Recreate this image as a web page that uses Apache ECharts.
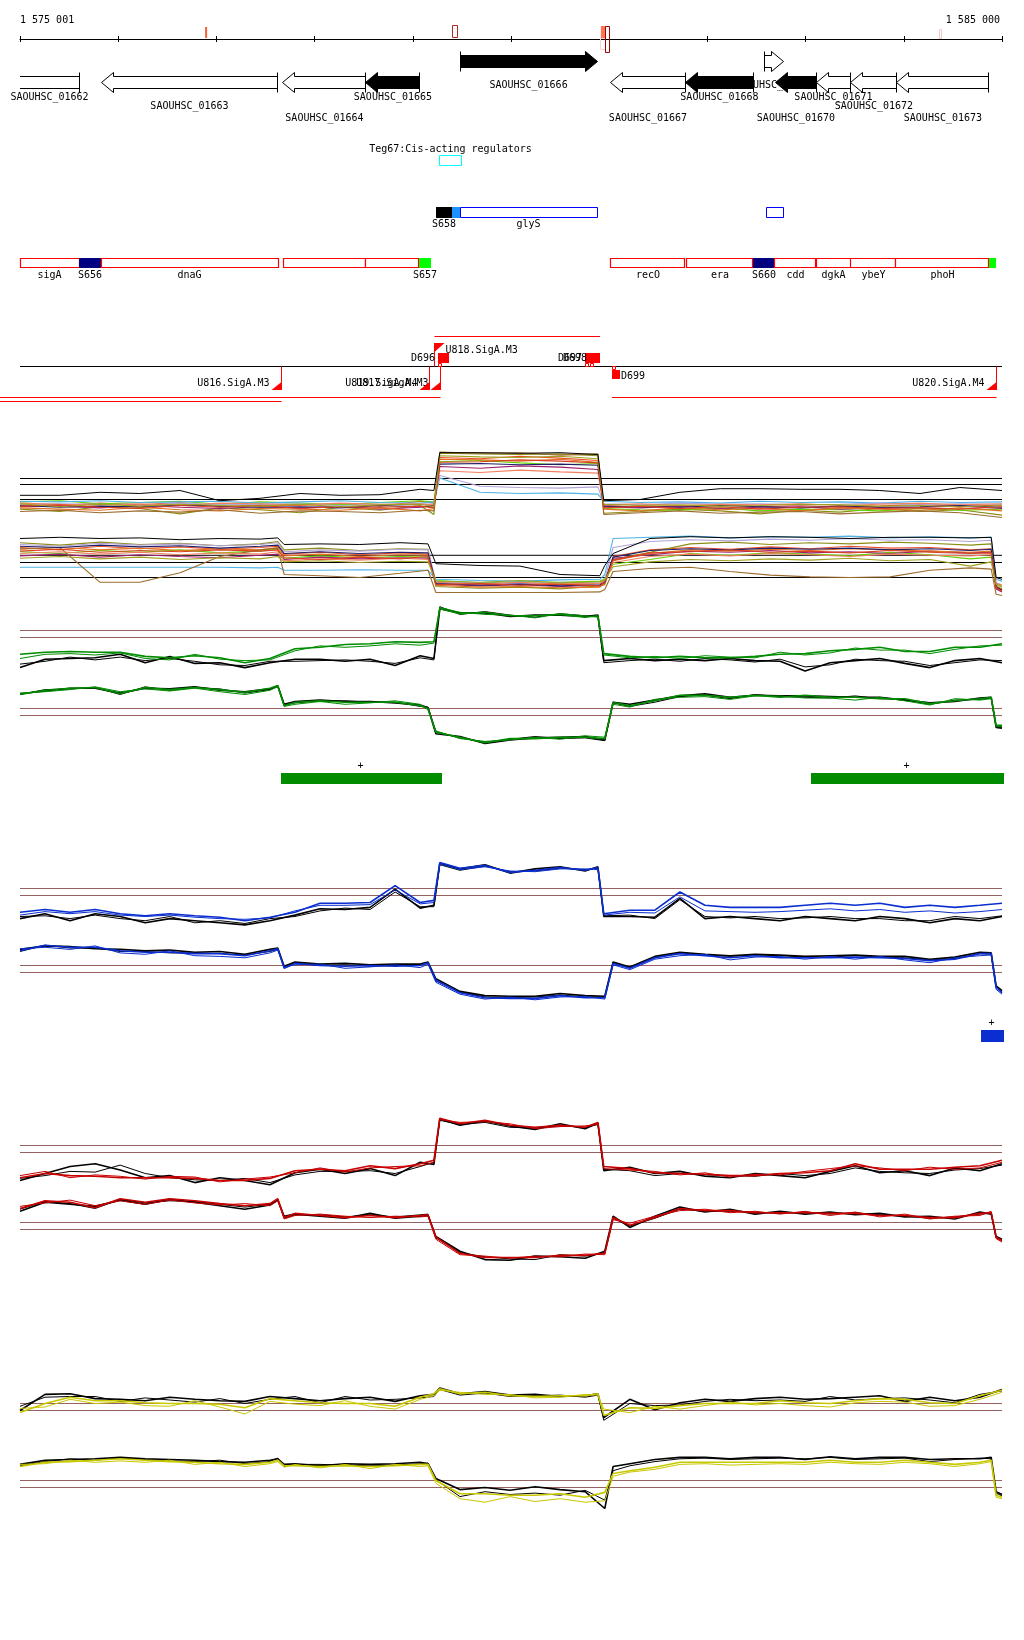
<!DOCTYPE html>
<html><head><meta charset="utf-8">
<script src="https://cdn.jsdelivr.net/npm/echarts@6/dist/echarts.min.js"></script>
<style>html,body{margin:0;padding:0;background:#fff}#c{width:1024px;height:1640px}</style>
</head><body><div id="c"></div>
<script>
// ================= DATA =================
const XMIN = 1575000, XMAX = 1585000;
const rulerLabels = ['1 575 001', '1 585 000'];
const rulerMarkStart = [1576885, 1579400, 1580915, 1580965, 1584360];
const rulerMarkEnd   = [1576905, 1579450, 1580965, 1581010, 1584380];
const rulerMarkKind  = ['tick', 'box', 'fill', 'boxDark', 'pale'];

const geneNames  = ['SAOUHSC_01662','SAOUHSC_01663','SAOUHSC_01664','SAOUHSC_01665','SAOUHSC_01666','SAOUHSC_01667','SAOUHSC_01668','SAOUHSC_01669','SAOUHSC_01670','SAOUHSC_01671','SAOUHSC_01672','SAOUHSC_01673'];
const geneStart  = [1574700,1575825,1577678,1578523,1579481,1581018,1581772,1582586,1582698,1583106,1583462,1583930];
const geneEnd    = [1575601,1577627,1578523,1579073,1580876,1581772,1582474,1582770,1583106,1583462,1583930,1584867];
const geneStrand = ['-','-','-','-','+','-','-','+','-','-','-','-'];
const geneHighlighted = ['SAOUHSC_01665','SAOUHSC_01666','SAOUHSC_01668','SAOUHSC_01670'];

const cisName = ['Teg67:Cis-acting regulators'];
const cisStart = [1579267];
const cisEnd = [1579491];

const rnaNames = ['S658', '', 'glyS', ''];
const rnaStart = [1579236, 1579399, 1579481, 1582597];
const rnaEnd   = [1579399, 1579481, 1580876, 1582770];
const rnaKind  = ['black', 'light', 'outline', 'outline'];

const featNames = ['sigA','S656','dnaG','','','S657','recO','era','S660','cdd','dgkA','ybeY','phoH',''];
const featStart = [1575000,1575601,1575825,1577688,1578523,1579063,1581018,1581792,1582464,1582688,1583106,1583462,1583920,1584867];
const featEnd   = [1575601,1575825,1577627,1578523,1579063,1579185,1581772,1582464,1582688,1583106,1583462,1583920,1584867,1584939];
const featKind  = ['cds','srna','cds','cds','cds','term','cds','cds','srna','cds','cds','cds','cds','term'];

const txNames  = ['U816.SigA.M3','U817.SigA.M3','U819.SigA.M4','U818.SigA.M3','U820.SigA.M4'];
const txTSS    = [1577668, 1579287, 1579175, 1579226, 1584939];
const txEnd    = [1574500, 1574500, 1574500, 1580906, 1581028];
const txStrand = ['-','-','-','+','-'];

const termNames  = ['D696','D697','D698','D699'];
const termStart  = [1579257, 1580753, 1580804, 1581028];
const termEnd    = [1579369, 1580906, 1580906, 1581110];
const termStrand = ['+','+','+','-'];

const segTrack = ['green','green','blue'];
const segStart = [1577658, 1583055, 1584786];
const segEnd   = [1579277, 1585000, 1585000];
const segSign  = ['+','+','+'];

// sample positions
const TX = [1575000,1575255,1575510,1575765,1576020,1576275,1576525,1576780,1577035,1577290,1577545,1577800,1578055,1578310,1578565,1578820,1579075,1579215,1579275,1579480,1579735,1579990,1580245,1580500,1580755,1580885,1580945,1581210,1581465,1581720,1581975,1582230,1582485,1582740,1582995,1583250,1583505,1583755,1584010,1584265,1584520,1584775,1585000];
const BX = [1575000,1575255,1575510,1575765,1576020,1576275,1576525,1576780,1577035,1577290,1577545,1577625,1577690,1577800,1578055,1578310,1578565,1578820,1579075,1579155,1579235,1579480,1579735,1579990,1580245,1580500,1580755,1580955,1581040,1581210,1581465,1581720,1581975,1582230,1582485,1582740,1582995,1583250,1583505,1583755,1584010,1584265,1584520,1584775,1584890,1584940,1585000];
const TXA = [1575000,1575405,1575815,1576220,1576630,1577035,1577445,1577850,1578260,1578665,1579075,1579215,1579275,1579685,1580090,1580500,1580885,1580945,1581315,1581720,1582130,1582535,1582945,1583350,1583755,1584165,1584570,1585000];
const BXA = [1575000,1575405,1575815,1576220,1576630,1577035,1577445,1577625,1577690,1578055,1578460,1578870,1579155,1579235,1579685,1580090,1580500,1580905,1580955,1581040,1581415,1581825,1582230,1582640,1583045,1583450,1583860,1584265,1584675,1584890,1584940,1585000];

// track A (all conditions) - upper strand
const aTopBlack = [0.7,0.7,1.2,1.0,1.5,-0.2,0.2,1.0,0.7,0.8,1.7,1.5,7.8,7.8,7.7,7.8,7.5,-0.2,0,1.2,1.8,1.8,1.7,1.7,1.5,1.0,2.0,1.5];
const aTop1  = [-0.8,-1.0,-0.6,-0.9,-0.5,-1.2,-0.9,-1.0,-0.7,-1.1,-0.3,-0.6,7.0,6.8,7.2,6.9,6.5,-1.0,-1.3,-1.1,-0.9,-1.2,-1.0,-1.3,-1.1,-0.8,-1.2,-0.9];
const aTop2  = [-1.6,-2.0,-1.2,-1.5,-2.4,-1.4,-1.7,-2.2,-1.3,-1.8,-1.0,-2.5,7.7,7.6,7.5,7.6,7.3,-2.3,-2.0,-1.6,-1.9,-2.4,-1.8,-2.1,-1.5,-2.0,-1.7,-2.6];
const aTop3  = [-0.4,-0.2,-0.7,-0.5,-0.3,-0.8,-0.4,-0.6,-0.9,-0.5,-0.2,-0.4,6.3,6.5,6.1,5.8,6.0,-1.5,-1.7,-1.8,-1.4,-1.9,-1.6,-1.7,-1.9,-1.5,-1.8,-1.6];
const aTop4  = [-1.2,-1.1,-1.4,-1.0,-1.3,-1.5,-1.2,-1.4,-1.1,-1.6,-1.3,-1.0,5.5,5.2,5.6,5.4,5.0,-1.2,-1.4,-1.1,-1.5,-1.3,-1.2,-1.6,-1.4,-1.3,-1.1,-1.5];
const aTop5  = [-0.3,-0.4,-0.2,-0.5,-0.4,-0.3,-0.6,-0.4,-0.2,-0.5,-0.6,-0.4,3.6,1.2,1.0,1.1,0.9,-0.3,-0.5,-0.4,-0.6,-0.3,-0.5,-0.4,-0.6,-0.3,-0.5,-0.4];
const aTop6  = [-0.9,-0.7,-0.8,-1.0,-0.6,-0.9,-0.8,-0.7,-1.0,-0.8,-0.9,-0.7,4.0,2.2,2.0,1.9,2.1,-0.7,-0.9,-0.6,-0.8,-0.7,-0.9,-0.8,-0.6,-0.9,-0.7,-0.8];
const aTop7  = [-1.4,-1.6,-1.8,-1.3,-1.7,-1.9,-1.5,-1.6,-1.8,-1.4,-1.9,-1.5,6.7,6.6,6.4,6.7,6.2,-1.6,-1.9,-1.4,-1.7,-1.5,-1.9,-1.4,-1.6,-1.8,-1.4,-1.9];
const aTop8  = [-2.0,-1.8,-2.2,-1.9,-2.1,-1.7,-2.3,-1.9,-2.0,-2.2,-1.8,-1.9,7.9,7.7,7.8,7.4,7.6,-2.5,-2.2,-1.9,-2.3,-2.1,-2.0,-2.4,-2.1,-1.9,-2.2,-3.0];
const aTop9  = [-0.6,-0.8,-0.9,-0.7,-1.0,-0.6,-0.7,-0.9,-0.6,-0.8,-0.7,-0.9,4.8,4.5,4.9,4.6,4.4,-0.9,-0.7,-1.0,-0.8,-0.9,-0.7,-1.0,-0.8,-0.6,-0.9,-0.7];
const aTop10 = [-1.0,-1.3,-1.1,-1.2,-0.9,-1.1,-1.3,-1.2,-1.4,-1.0,-1.2,-1.1,5.9,6.0,5.8,5.9,5.7,-1.1,-1.2,-1.3,-1.0,-1.2,-1.4,-1.1,-1.3,-1.2,-1.0,-1.3];
const aTop11 = [-1.1,-0.9,-1.3,-1.5,-1.0,-1.3,-1.0,-1.5,-1.2,-1.3,-1.1,-1.4,6.2,6.3,6.6,6.4,6.1,-1.4,-1.1,-1.5,-1.2,-1.6,-1.3,-1.2,-1.5,-1.4,-1.6,-1.2];
const aTop12 = [-0.7,-1.2,-0.8,-1.1,-0.8,-1.0,-1.1,-0.8,-1.2,-0.9,-0.8,-1.2,7.3,7.1,7.0,7.2,6.8,-0.8,-1.0,-0.9,-1.1,-1.0,-0.8,-0.9,-1.1,-1.0,-1.2,-1.0];
// track A - lower strand
const aBotBlack = [6.5,6.7,6.5,6.6,6.3,6.5,6.4,6.6,5.5,5.6,5.5,5.8,5.6,2.3,2.0,1.9,0.5,0.3,2.0,4.0,6.5,6.8,6.6,6.8,6.7,6.5,6.7,6.7,6.6,6.7,0.0,-0.3];
const aBot1  = [5.0,4.6,5.2,4.8,5.1,4.7,5.0,5.2,3.9,4.2,3.8,4.1,3.9,-0.8,-1.2,-0.9,-1.1,-1.0,-0.6,3.5,4.6,5.0,4.7,5.1,4.8,5.2,4.9,5.0,4.6,4.8,-1.5,-2.0];
const aBot2  = [5.8,5.4,5.9,5.5,5.7,5.3,5.6,6.0,4.6,4.9,4.5,4.8,4.7,-1.5,-1.8,-1.6,-1.9,-1.4,-1.2,3.0,4.2,5.6,5.9,5.5,5.8,5.6,5.9,5.7,5.4,5.6,-1.8,-2.2];
const aBot3  = [4.3,4.0,4.5,4.2,4.6,4.1,4.4,4.7,3.2,3.6,3.3,3.5,3.4,-0.5,-0.9,-0.7,-0.8,-0.6,-0.2,2.2,3.0,4.0,3.7,4.1,3.9,3.6,4.2,3.8,3.1,3.4,-1.2,-1.6];
const aBot4  = [3.6,3.9,3.4,3.8,3.5,3.3,3.7,3.9,3.0,3.4,3.1,3.3,3.2,-1.1,-1.4,-1.2,-1.5,-1.3,-0.9,3.2,3.8,4.4,4.2,4.5,4.1,4.3,4.0,4.4,4.1,4.2,-1.9,-2.4];
const aBot5  = [1.7,1.7,1.7,1.7,1.7,1.7,1.6,1.7,1.2,1.2,1.3,1.2,1.2,-0.3,-0.5,-0.6,-0.4,-0.3,0.5,6.5,6.7,6.9,6.6,6.8,6.7,6.9,6.6,6.8,6.6,6.7,-0.3,-0.6];
const aBot6  = [5.5,5.2,5.7,5.4,5.6,5.3,5.5,5.8,4.3,4.6,4.4,4.7,4.6,-0.7,-0.9,-1.0,-0.8,-0.9,-0.3,5.0,6.0,6.3,6.1,6.4,6.2,6.5,6.2,6.3,6.0,6.2,-0.9,-1.2];
const aBot7  = [4.7,5.0,4.6,4.9,4.5,4.8,4.6,5.0,3.6,3.9,3.5,3.8,3.7,-1.3,-1.6,-1.5,-1.7,-1.6,-1.0,2.8,4.0,4.6,4.4,4.7,4.5,4.8,4.6,4.4,4.2,4.4,-1.4,-1.9];
const aBot8  = [4.8,5.0,-0.8,-0.8,0.8,3.5,4.6,4.9,0.5,0.3,0.0,0.7,1.2,-2.5,-2.5,-2.5,-2.5,-2.4,-2.0,1.0,1.5,1.7,1.0,0.4,0.1,0.0,0.1,1.2,1.6,1.4,-2.8,-3.0];
const aBot9  = [4.0,4.3,3.9,4.2,3.8,4.1,3.9,4.3,2.8,3.1,2.9,3.2,3.0,-0.9,-1.1,-0.8,-1.2,-1.0,-0.5,2.5,3.5,3.9,3.6,4.0,3.8,3.5,3.9,3.7,3.6,3.8,-1.0,-1.3];
const aBot10 = [5.2,5.0,5.4,5.1,5.3,4.9,5.2,5.4,4.0,4.3,4.0,4.2,4.1,-1.0,-1.3,-1.1,-1.4,-1.2,-0.8,3.4,4.5,4.8,4.6,4.9,4.7,4.9,4.6,4.8,4.5,4.7,-1.6,-2.1];
const aBot11 = [4.4,4.7,4.2,4.5,4.3,4.6,4.4,4.6,3.3,3.0,3.4,3.1,3.5,-1.2,-1.0,-1.3,-1.1,-1.4,-0.7,2.9,4.1,4.3,4.6,4.2,4.4,4.1,4.5,4.2,4.0,4.1,-1.7,-2.3];
const aBot12 = [3.2,3.5,3.1,3.4,3.0,3.3,3.1,3.5,2.6,2.8,2.5,2.7,2.6,-0.6,-0.8,-0.5,-0.9,-0.7,-0.4,1.8,2.6,3.0,2.8,3.1,2.9,3.2,2.8,3.0,1.9,2.6,-1.1,-1.5];
const aTopLevels = [3.5, 2.5, 0];
const aBotLevels = [3.7, 2.5, 0];

// green condition
const greenTop1 = [-2.4,-2.1,-2.0,-2.1,-2.1,-2.7,-2.9,-2.6,-2.9,-3.6,-3.0,-1.6,-1.4,-1.0,-0.9,-0.6,-0.7,-0.6,4.1,3.4,3.6,3.1,3.1,3.3,2.9,3.1,-2.3,-2.7,-2.9,-2.7,-2.9,-2.9,-2.7,-2.4,-2.3,-1.9,-1.7,-1.4,-2.0,-2.0,-1.4,-1.4,-0.9];
const greenTop2 = [-3.0,-2.4,-2.3,-2.5,-2.2,-3.0,-3.2,-2.4,-3.1,-3.3,-3.2,-1.9,-1.2,-1.4,-1.2,-0.9,-1.1,-0.8,4.3,3.6,3.3,3.2,2.8,3.4,3.1,2.9,-2.5,-2.9,-2.7,-3.0,-2.6,-2.8,-2.9,-2.1,-2.5,-2.2,-1.5,-1.8,-1.8,-2.3,-1.7,-1.2,-1.1];
const greenTopRef1 = [-4.3,-3.1,-3.0,-2.9,-2.4,-3.6,-2.7,-3.7,-3.6,-4.3,-3.6,-3.1,-3.1,-3.4,-3.1,-4.0,-2.6,-3.0,4.1,3.5,3.5,3.0,3.2,3.2,3.0,3.2,-3.3,-3.0,-3.3,-3.1,-3.3,-3.0,-3.3,-3.4,-4.8,-3.6,-3.3,-3.0,-3.7,-4.3,-3.3,-3.0,-3.6];
const greenTopRef2 = [-3.8,-3.4,-2.8,-3.2,-2.8,-3.3,-3.0,-3.4,-3.9,-4.0,-3.4,-3.4,-3.3,-3.2,-3.4,-3.7,-2.9,-3.2,4.4,3.3,3.7,3.2,2.9,3.4,3.1,3.0,-3.6,-3.3,-3.1,-3.4,-3.0,-3.2,-3.5,-3.1,-4.2,-3.9,-3.1,-3.3,-3.4,-4.0,-3.6,-3.2,-3.3];
const greenBot1 = [3.0,3.6,3.9,4.0,3.1,4.0,3.7,4.0,3.7,3.3,3.9,4.3,1.4,1.9,2.1,1.9,1.9,1.9,1.4,1.0,-2.4,-3.1,-3.9,-3.3,-3.3,-3.1,-3.1,-3.3,1.9,1.4,2.1,2.9,2.9,2.6,2.9,2.6,2.9,2.6,2.6,2.4,2.4,1.7,2.1,2.4,2.6,-1.4,-1.4];
const greenBot2 = [3.2,3.4,3.7,4.1,3.4,3.8,3.5,3.9,3.4,3.0,3.6,4.1,1.3,1.6,2.0,1.6,1.8,2.1,1.6,0.8,-2.2,-3.3,-3.7,-3.5,-3.1,-3.4,-2.9,-3.1,1.6,1.2,2.3,2.6,2.7,2.3,2.8,2.8,2.5,2.5,2.2,2.6,2.1,1.5,2.4,2.2,2.4,-1.6,-1.6];
const greenBotRef1 = [3.1,3.5,3.9,3.9,3.2,3.9,3.8,4.1,3.6,3.4,3.8,4.2,1.6,2.0,2.2,2.0,2.0,1.8,1.5,1.1,-2.6,-3.0,-4.0,-3.5,-3.2,-3.1,-3.0,-3.5,1.9,1.6,2.2,2.8,3.1,2.6,2.9,2.8,2.8,2.7,2.6,2.6,2.2,1.8,2.0,2.5,2.6,-1.7,-1.8];
const greenBotRef2 = [3.0,3.7,3.8,4.0,3.0,4.1,3.6,4.0,3.8,3.2,3.7,4.3,1.5,1.8,2.1,2.1,1.9,1.9,1.3,1.2,-2.3,-3.2,-3.8,-3.4,-3.0,-3.3,-3.2,-3.6,1.8,1.3,1.9,2.7,2.9,2.4,3.0,2.7,2.6,2.5,2.8,2.4,2.3,1.6,2.2,2.3,2.5,-1.5,-1.6];

// blue condition
const blueTop1 = [-2.4,-2.0,-2.4,-2.0,-2.6,-2.9,-2.6,-2.9,-3.1,-3.6,-3.1,-2.4,-1.1,-1.1,-1.0,1.4,-1.0,-0.7,4.7,3.9,4.3,3.3,3.6,4.0,3.6,4.0,-2.6,-2.1,-2.1,0.5,-1.4,-1.7,-1.7,-1.7,-1.4,-1.1,-1.4,-1.1,-1.7,-1.4,-1.7,-1.4,-1.1];
const blueTop2 = [-2.8,-2.3,-2.6,-2.3,-2.8,-3.0,-2.8,-3.1,-3.3,-3.4,-3.2,-2.2,-1.4,-1.4,-1.3,0.8,-1.2,-1.0,4.5,3.7,4.1,3.5,3.4,3.8,3.8,3.7,-2.8,-2.4,-2.5,-0.2,-2.2,-2.3,-2.4,-2.3,-2.1,-1.9,-2.2,-2.0,-2.4,-2.2,-2.5,-2.3,-2.0];
const blueTopRef1 = [-3.3,-2.6,-3.6,-2.6,-3.0,-3.9,-3.3,-3.6,-3.9,-4.2,-3.6,-2.8,-1.9,-2.0,-1.7,0.9,-1.8,-1.4,4.6,3.8,4.4,3.2,3.8,4.1,3.5,4.1,-3.0,-3.0,-3.1,-0.4,-3.3,-3.0,-3.3,-3.6,-3.0,-3.3,-3.6,-3.0,-3.3,-3.9,-3.3,-3.6,-3.0];
const blueTopRef2 = [-3.0,-2.9,-3.3,-2.8,-3.3,-3.6,-3.0,-3.9,-3.6,-4.0,-3.3,-3.0,-2.2,-1.8,-2.0,0.5,-1.6,-1.6,4.4,3.6,4.2,3.4,3.5,3.9,3.7,3.9,-2.9,-2.8,-3.3,-0.6,-3.0,-3.2,-3.0,-3.3,-3.2,-3.0,-3.3,-3.3,-3.6,-3.6,-3.0,-3.3,-2.9];
const blueBot1 = [3.1,3.9,3.6,3.6,3.1,2.9,2.9,2.7,2.7,2.4,3.1,3.4,0.6,1.3,1.0,0.9,1.0,0.9,1.0,1.4,-1.1,-2.9,-3.6,-3.7,-3.7,-3.3,-3.6,-3.6,1.3,0.6,2.1,2.7,2.4,2.1,2.4,2.1,2.1,2.1,2.2,2.1,2.0,1.7,1.9,2.7,2.7,-2.1,-2.9];
const blueBot2 = [3.4,3.6,3.3,3.8,2.8,2.6,3.1,2.4,2.3,2.1,2.8,3.2,0.8,1.1,1.2,0.6,0.8,1.1,0.7,1.2,-1.4,-3.1,-3.8,-3.5,-3.9,-3.5,-3.4,-3.8,1.1,0.4,1.9,2.4,2.6,1.8,2.2,2.3,1.9,2.3,1.9,2.3,1.8,1.4,2.1,2.4,2.5,-2.4,-3.1];
const blueBotRef1 = [3.3,3.8,3.7,3.4,3.3,3.1,3.2,2.9,3.0,2.6,3.3,3.5,0.9,1.5,1.2,1.3,1.1,1.2,1.2,1.5,-0.9,-2.7,-3.3,-3.4,-3.4,-3.0,-3.3,-3.4,1.5,0.8,2.3,2.9,2.6,2.4,2.6,2.5,2.3,2.4,2.5,2.3,2.3,1.9,2.2,2.9,2.8,-1.9,-2.6];
const blueBotRef2 = [3.0,3.9,3.5,3.5,3.0,3.0,2.8,2.8,2.7,2.5,3.0,3.3,0.7,1.4,1.0,1.1,0.9,1.0,1.1,1.3,-1.2,-2.8,-3.5,-3.6,-3.5,-3.2,-3.5,-3.5,1.4,0.7,2.1,2.8,2.5,2.3,2.5,2.4,2.2,2.2,2.4,2.2,2.1,1.8,2.0,2.7,2.6,-2.0,-2.8];

// red condition
const redTop1 = [-3.6,-3.0,-3.3,-3.4,-3.6,-3.6,-3.6,-3.7,-4.0,-4.0,-3.7,-2.6,-2.4,-2.6,-1.9,-2.3,-1.6,-1.1,4.9,4.1,4.6,3.9,3.6,3.9,3.6,4.3,-2.0,-2.3,-2.9,-3.0,-3.1,-3.3,-3.3,-3.0,-2.9,-2.6,-1.6,-2.4,-2.4,-2.4,-2.1,-1.9,-1.1];
const redTop2 = [-3.3,-2.7,-3.6,-3.2,-3.4,-3.8,-3.4,-3.5,-4.2,-3.8,-3.5,-2.9,-2.2,-2.8,-2.2,-2.0,-1.9,-1.4,4.7,4.3,4.4,4.1,3.4,3.7,3.8,4.0,-2.3,-2.5,-2.7,-3.2,-2.9,-3.5,-3.1,-3.2,-2.7,-2.3,-1.9,-2.2,-2.6,-2.1,-2.4,-2.2,-1.4];
const redTopRef1 = [-4.0,-3.0,-2.0,-1.6,-2.5,-3.6,-3.3,-4.3,-3.6,-4.0,-4.6,-2.9,-2.4,-3.0,-2.3,-3.3,-1.4,-1.7,4.8,3.9,4.5,3.8,3.3,4.1,3.4,4.2,-2.6,-2.1,-3.0,-2.7,-3.4,-3.6,-3.0,-3.3,-3.6,-2.7,-1.9,-2.9,-2.6,-3.3,-2.2,-2.6,-1.6];
const redTopRef2 = [-3.7,-3.3,-2.7,-2.8,-1.8,-3.0,-3.6,-3.9,-4.0,-3.7,-4.3,-3.2,-2.7,-2.7,-2.6,-3.0,-2.0,-1.4,4.6,4.0,4.3,3.6,3.5,3.8,3.6,4.0,-2.4,-2.6,-3.3,-3.0,-3.2,-3.3,-3.4,-3.0,-3.3,-3.0,-2.2,-2.7,-2.9,-3.0,-2.5,-2.3,-1.8];
const redBot1 = [3.0,4.1,3.9,3.1,4.4,3.9,4.4,4.1,3.7,3.4,3.7,4.4,1.7,2.3,2.0,1.7,2.0,1.7,2.0,2.1,-1.1,-3.4,-4.0,-4.0,-4.0,-3.7,-3.7,-3.4,1.7,0.6,1.7,3.0,2.7,2.7,2.4,2.4,2.4,2.3,2.3,2.0,2.0,1.7,1.7,2.3,2.4,-1.1,-1.6];
const redBot2 = [3.3,3.8,4.2,3.4,4.1,3.6,4.2,3.8,3.5,3.7,3.4,4.1,1.5,2.0,2.2,1.9,1.7,1.9,1.8,1.9,-1.4,-3.6,-3.8,-4.1,-3.8,-3.9,-3.5,-3.6,1.4,0.9,1.9,2.7,2.9,2.4,2.6,2.2,2.6,2.0,2.5,1.8,2.2,1.5,1.9,2.0,2.6,-1.3,-1.8];
const redBotRef1 = [2.6,3.9,3.6,3.3,4.2,3.6,4.3,3.9,3.4,2.9,3.5,4.2,1.9,2.2,1.9,1.6,2.3,1.6,1.9,2.0,-1.0,-3.1,-4.3,-4.4,-3.8,-3.9,-4.1,-3.1,1.9,0.3,1.9,3.2,2.5,2.9,2.2,2.6,2.2,2.5,2.1,2.3,1.8,1.9,1.5,2.5,2.2,-1.0,-1.4];
const redBotRef2 = [2.9,4.0,3.7,3.0,4.3,3.8,4.1,4.0,3.6,3.2,3.6,4.3,1.6,2.1,2.1,1.8,2.1,1.8,2.1,2.2,-1.2,-3.3,-3.9,-4.2,-4.3,-3.6,-3.8,-3.3,1.6,0.5,1.6,2.9,2.6,2.6,2.5,2.3,2.5,2.2,2.4,2.1,1.9,1.6,1.8,2.2,2.3,-1.2,-1.5];

// yellow condition
const yellowTop1 = [-0.3,1.0,1.9,1.4,1.4,1.1,1.0,1.0,0.9,0.4,1.7,1.4,1.1,1.0,1.0,0.6,1.9,2.4,3.1,2.4,2.6,2.1,2.0,2.1,2.1,2.4,-0.7,0.4,0.3,0.7,1.0,1.0,1.0,1.4,1.1,1.0,1.4,1.7,1.6,1.1,1.0,2.1,2.9];
const yellowTop2 = [0.3,0.5,1.6,1.0,1.2,0.7,0.6,1.4,0.5,-0.5,1.3,0.9,0.7,1.4,0.6,0.2,1.6,2.1,2.9,2.6,2.3,2.3,1.8,1.9,2.3,2.2,0.2,-0.3,0.6,0.2,0.7,1.2,0.8,1.0,0.7,0.5,1.1,1.3,1.2,0.6,0.7,1.6,2.6];
const yellowTopRef1 = [0.0,2.3,2.4,1.7,1.6,1.4,1.9,1.6,1.4,1.3,2.0,1.7,1.4,1.7,1.9,1.3,2.1,2.3,3.2,2.4,2.7,2.2,2.3,2.0,2.1,2.4,-1.0,1.6,0.1,1.1,1.6,1.3,1.7,1.9,1.6,1.7,1.9,2.1,1.3,1.9,1.4,1.9,3.0];
const yellowTopRef2 = [0.6,1.9,2.0,2.0,1.3,1.8,1.5,1.2,1.7,1.0,1.6,2.0,1.1,2.0,1.5,1.6,1.8,2.0,3.0,2.2,2.5,2.0,2.1,2.2,1.9,2.2,-1.4,1.0,0.7,0.8,1.3,1.6,1.4,1.5,1.3,2.0,1.5,1.7,1.8,1.5,1.1,2.3,2.8];
const yellowBot1 = [3.0,3.6,3.7,3.9,4.1,3.9,3.7,3.6,3.4,3.3,3.6,3.9,3.1,3.1,3.0,3.1,3.0,3.1,3.3,3.3,1.0,-0.9,-0.9,-1.1,-1.1,-0.9,-1.4,-0.7,2.0,2.4,2.9,3.6,3.6,3.6,3.6,3.6,3.6,3.9,3.6,3.6,3.9,3.6,3.3,3.6,3.9,-1.1,-1.4];
const yellowBot2 = [3.3,3.4,3.9,3.6,3.8,3.6,3.9,3.3,3.6,3.0,3.4,3.7,2.9,3.3,2.8,3.3,2.7,3.3,3.0,3.1,0.6,-1.6,-2.1,-1.3,-2.0,-1.6,-2.1,-1.9,1.6,2.2,2.6,3.3,3.4,3.2,3.3,3.4,3.3,3.6,3.4,3.3,3.6,3.4,3.0,3.4,3.7,-1.4,-1.6];
const yellowBotRef1 = [3.3,3.9,4.0,4.1,4.3,4.1,4.0,3.9,3.7,3.6,3.9,4.1,3.3,3.4,3.1,3.4,3.3,3.4,3.6,3.4,1.3,-0.3,0.0,-0.4,0.1,-0.3,-0.6,-3.0,3.0,3.4,4.0,4.3,4.3,4.1,4.3,4.3,4.0,4.4,4.1,4.3,4.3,4.0,4.1,4.1,4.3,-0.6,-1.0];
const yellowBotRef2 = [3.1,3.7,4.1,3.9,4.2,4.0,3.8,3.7,3.9,3.4,3.7,4.2,3.0,3.3,3.3,3.2,3.1,3.2,3.4,3.5,1.1,-1.3,-0.6,-1.0,-0.8,-1.1,-0.4,-1.8,2.4,3.1,3.7,4.1,4.2,4.0,4.1,4.2,4.1,4.3,4.0,4.1,4.2,3.7,4.0,4.2,4.1,-0.8,-1.2];
const thresholdLevels = [0, 1];

// ================= LAYOUT / STYLE =================
const FONT = '10px "DejaVu Sans Mono", "Liberation Mono", monospace';
const L = {
  left: 20, width: 982,
  rulerY: 38, rulerLabelY: 20,
  geneRows: [
    {bodyTop: 55.5, bodyBot: 67.5, headTop: 51.5, headBot: 71.5},
    {bodyTop: 76.5, bodyBot: 88.5, headTop: 72.5, headBot: 92.5}
  ],
  headLen: 12,
  geneRow:   [1,1,1,1,0,1,1,0,1,1,1,1],
  geneLabelY:[97,106,118,97,85,118,97,85,118,97,106,118],
  cisBox: [155.5, 165.5], cisLabelY: 149,
  rnaBox: [207, 218], rnaLabelY: 224,
  featBox: [258.5, 267.5], featLabelY: 275,
  txBaseY: 366.5, txLaneY: [401.5, 397.5, 397.5, 336.5, 397.5],
  txUpTop: 343, txDownBot: 390,
  termUp: [353, 363], termDown: [370, 379],
  seg: { green: {box:[773, 784], label:766}, blue: {box:[1030, 1042], label:1023} },
  panels: {
    aTop: {top:445.5, height:84, min:-5, max:9},
    aBot: {top:529.5, height:78, min:-5, max:8},
    gTop: {top:595.5, height:84, min:-6, max:6},
    gBot: {top:673.5, height:84, min:-6, max:6},
    bTop: {top:853.5, height:84, min:-6, max:6},
    bBot: {top:930.5, height:84, min:-6, max:6},
    rTop: {top:1110.5, height:84, min:-6, max:6},
    rBot: {top:1187.5, height:84, min:-6, max:6},
    yTop: {top:1368.5, height:84, min:-6, max:6},
    yBot: {top:1445.5, height:84, min:-6, max:6}
  }
};
const COL = {green:'#008c00', blue:'#0a2ed0', red:'#c80000', yellow:'#c8c800', black:'#000000', ref:'#956262'};
const bundleColors = ['#e8502a','#8c8c14','#5fd400','#a01e6e','#4db3e6','#b3a3d6','#e07020','#9c6b2e','#f08060','#20206a','#d94020','#a0a020'];

const cr = v => Math.round(v - 0.5) + 0.5;

// ================= OPTION =================
const option = {animation:false, backgroundColor:'#ffffff', grid:[], xAxis:[], yAxis:[], series:[]};
function addGrid(top, height, ymin, ymax) {
  const i = option.grid.length;
  option.grid.push({left:L.left, width:L.width, top:top, height:height, containLabel:false, outerBoundsMode:'none', show:false});
  option.xAxis.push({gridIndex:i, type:'value', min:XMIN, max:XMAX, show:false});
  option.yAxis.push({gridIndex:i, type:'value', min:ymin, max:ymax, show:false});
  return i;
}
const ANN = addGrid(0, 1640, 0, 1);
const R1 = addGrid(L.rulerY, 1, 0, 1);
const R2 = addGrid(L.rulerY, 1, 0, 1);
Object.assign(option.xAxis[R1], {show:true, position:'top', interval:1000,
  axisLine:{show:true, lineStyle:{color:'#000', width:1}},
  axisTick:{show:true, length:3, lineStyle:{color:'#000', width:1}},
  axisLabel:{show:false}, splitLine:{show:false}});
Object.assign(option.xAxis[R2], {show:true, position:'top', interval:1000,
  axisLine:{show:false},
  axisTick:{show:true, inside:true, length:3, lineStyle:{color:'#000', width:1}},
  axisLabel:{show:false}, splitLine:{show:false}});

function ann(data, renderItem, z, clip) {
  option.series.push({type:'custom', xAxisIndex:ANN, yAxisIndex:ANN, data:data, renderItem:renderItem,
    z:z, clip:!!clip, silent:true, animation:false});
}
const X = (api, v) => api.coord([v, 0])[0];
const txt = (text, x, y, align) => ({type:'text', x:x, y:y, style:{text:text, font:FONT, fill:'#000', align:align || 'center', verticalAlign:'middle'}});

ann([[XMIN, 0], [XMAX, 1]], (p, api) => {
  const i = api.value(1);
  return txt(rulerLabels[i], X(api, api.value(0)) + (i === 0 ? 0 : -2), L.rulerLabelY, i === 0 ? 'left' : 'right');
}, 5);
ann(rulerMarkStart.map((s, i) => [s, rulerMarkEnd[i], i]), (p, api) => {
  const i = api.value(2), x1 = X(api, api.value(0)), x2 = X(api, api.value(1));
  const k = rulerMarkKind[i];
  if (k === 'tick') return {type:'rect', shape:{x:x1, y:27, width:Math.max(2, x2 - x1), height:11}, style:{fill:'#f4603c'}};
  if (k === 'box') return {type:'rect', shape:{x:cr(x1), y:25.5, width:Math.round(x2 - x1), height:12}, style:{fill:'none', stroke:'#b02828', lineWidth:1}};
  if (k === 'fill') return {type:'group', children:[
    {type:'rect', shape:{x:cr(x1), y:38.5, width:Math.round(x2 - x1), height:11}, style:{fill:'none', stroke:'#fbd2c4', lineWidth:1}},
    {type:'rect', shape:{x:x1, y:26, width:x2 - x1, height:12}, style:{fill:'#f87858'}}]};
  if (k === 'boxDark') return {type:'rect', shape:{x:cr(x1), y:26.5, width:Math.round(x2 - x1), height:26}, style:{fill:'none', stroke:'#a00000', lineWidth:1}};
  return {type:'rect', shape:{x:cr(x1), y:29.5, width:Math.max(2, Math.round(x2 - x1)), height:9}, style:{fill:'none', stroke:'#f5c6c6', lineWidth:1}};
}, 6);

ann(geneNames.map((n, i) => [geneStart[i], geneEnd[i], i]), (p, api) => {
  const i = api.value(2);
  const x1 = Math.max(L.left, X(api, api.value(0))), x2 = Math.min(L.left + L.width, X(api, api.value(1)));
  return txt(geneNames[i], (x1 + x2) / 2, L.geneLabelY[i]);
}, 4);
ann(geneNames.map((n, i) => [geneStart[i], geneEnd[i], i]), (p, api) => {
  const i = api.value(2);
  const x1 = cr(X(api, api.value(0))), x2 = cr(X(api, api.value(1)));
  const R = L.geneRows[L.geneRow[i]];
  const mid = (R.headTop + R.headBot) / 2;
  const hl = Math.min(L.headLen, x2 - x1);
  const fill = geneHighlighted.indexOf(geneNames[i]) >= 0 ? '#000' : '#fff';
  let pts;
  if (geneStrand[i] === '-') pts = [[x1, mid], [x1 + hl, R.headTop], [x1 + hl, R.bodyTop], [x2, R.bodyTop], [x2, R.bodyBot], [x1 + hl, R.bodyBot], [x1 + hl, R.headBot]];
  else pts = [[x2, mid], [x2 - hl, R.headTop], [x2 - hl, R.bodyTop], [x1, R.bodyTop], [x1, R.bodyBot], [x2 - hl, R.bodyBot], [x2 - hl, R.headBot]];
  const bx = geneStrand[i] === '-' ? x2 : x1;
  return {type:'group', children:[
    {type:'polygon', shape:{points:pts}, style:{fill:fill, stroke:'#000', lineWidth:1}},
    {type:'line', shape:{x1:bx, y1:R.headTop, x2:bx, y2:R.headBot}, style:{stroke:'#000', lineWidth:1}}
  ]};
}, 7, true);

ann(cisName.map((n, i) => [cisStart[i], cisEnd[i], i]), (p, api) => {
  const i = api.value(2), x1 = cr(X(api, api.value(0))), x2 = cr(X(api, api.value(1)));
  return {type:'group', children:[
    {type:'rect', shape:{x:x1, y:L.cisBox[0], width:x2 - x1, height:L.cisBox[1] - L.cisBox[0]}, style:{fill:'none', stroke:'#00ffff', lineWidth:1}},
    txt(cisName[i], (x1 + x2) / 2, L.cisLabelY)]};
}, 5);

ann(rnaNames.map((n, i) => [rnaStart[i], rnaEnd[i], i]), (p, api) => {
  const i = api.value(2), x1 = X(api, api.value(0)), x2 = X(api, api.value(1));
  const k = rnaKind[i], t = L.rnaBox[0], b = L.rnaBox[1];
  const ch = [];
  if (k === 'outline') ch.push({type:'rect', shape:{x:cr(x1), y:t + 0.5, width:Math.round(x2 - x1), height:b - t - 1}, style:{fill:'#fff', stroke:'#0000ff', lineWidth:1}});
  else ch.push({type:'rect', shape:{x:Math.round(x1), y:t, width:Math.round(x2) - Math.round(x1), height:b - t}, style:{fill:k === 'black' ? '#000' : '#1e90ff'}});
  if (rnaNames[i]) ch.push(txt(rnaNames[i], (x1 + x2) / 2, L.rnaLabelY));
  return {type:'group', children:ch};
}, 5);

ann(featNames.map((n, i) => [featStart[i], featEnd[i], i]), (p, api) => {
  const i = api.value(2), x1 = X(api, api.value(0)), x2 = X(api, api.value(1));
  const k = featKind[i], t = L.featBox[0], b = L.featBox[1];
  const ch = [];
  if (k === 'cds') ch.push({type:'rect', shape:{x:cr(x1), y:t, width:Math.round(x2 - x1), height:b - t}, style:{fill:'#fff', stroke:'#ff0000', lineWidth:1.2}});
  else ch.push({type:'rect', shape:{x:Math.round(x1), y:t - 0.5, width:Math.round(x2) - Math.round(x1), height:b - t + 1}, style:{fill:k === 'srna' ? '#000080' : '#00ff00'}});
  if (featNames[i]) ch.push(txt(featNames[i], (x1 + x2) / 2, L.featLabelY));
  return {type:'group', children:ch};
}, 5);

ann([[XMIN, XMAX]], (p, api) => ({type:'line', shape:{x1:X(api, api.value(0)), y1:L.txBaseY, x2:X(api, api.value(1)), y2:L.txBaseY}, style:{stroke:'#000', lineWidth:1}}), 5);
ann(txNames.map((n, i) => [txTSS[i], txEnd[i], i]), (p, api) => {
  const i = api.value(2), x = cr(X(api, api.value(0))), xe = X(api, api.value(1));
  const y = L.txLaneY[i], base = L.txBaseY;
  const ch = [{type:'line', shape:{x1:Math.min(x, xe), y1:y, x2:Math.max(x, xe), y2:y}, style:{stroke:'#ff0000', lineWidth:1}}];
  if (txStrand[i] === '-') {
    const bot = L.txDownBot;
    ch.push({type:'line', shape:{x1:x, y1:base, x2:x, y2:bot}, style:{stroke:'#ff0000', lineWidth:1}});
    ch.push({type:'polygon', shape:{points:[[x - 10, bot], [x, bot], [x, bot - 8]]}, style:{fill:'#ff0000'}});
    ch.push(txt(txNames[i], x - 12, 383, 'right'));
  } else {
    const top = L.txUpTop;
    ch.push({type:'line', shape:{x1:x, y1:base, x2:x, y2:top}, style:{stroke:'#ff0000', lineWidth:1}});
    ch.push({type:'polygon', shape:{points:[[x, top], [x + 10, top], [x, top + 9]]}, style:{fill:'#ff0000'}});
    ch.push(txt(txNames[i], x + 11, 350, 'left'));
  }
  return {type:'group', children:ch};
}, 6, false);
ann(termNames.map((n, i) => [termStart[i], termEnd[i], i]), (p, api) => {
  const i = api.value(2), x1 = Math.round(X(api, api.value(0))), x2 = Math.round(X(api, api.value(1)));
  const up = termStrand[i] === '+';
  const yy = up ? L.termUp : L.termDown;
  const ch = [
    {type:'rect', shape:{x:x1, y:yy[0], width:x2 - x1, height:yy[1] - yy[0]}, style:{fill:'#ff0000'}},
    {type:'rect', shape:{x:x1 + 0.5, y:up ? 363.5 : 366.5, width:3, height:3}, style:{fill:'#fff', stroke:'#ff0000', lineWidth:1}}
  ];
  ch.push(up ? txt(termNames[i], x1 - 3, 358, 'right') : txt(termNames[i], x2 + 1, 376, 'left'));
  return {type:'group', children:ch};
}, 6, false);

ann(segTrack.map((t, i) => [segStart[i], segEnd[i], i]), (p, api) => {
  const i = api.value(2), x1 = X(api, api.value(0)), x2 = X(api, api.value(1));
  const S = L.seg[segTrack[i]];
  return {type:'group', children:[
    {type:'rect', shape:{x:Math.round(x1), y:S.box[0], width:Math.round(x2 - x1) + 2, height:S.box[1] - S.box[0]}, style:{fill:COL[segTrack[i]]}},
    txt(segSign[i], (x1 + x2) / 2, S.label)]};
}, 5, false);

function lineSeries(gi, xs, ys, color, width, z) {
  const data = [];
  for (let k = 0; k < Math.min(xs.length, ys.length); k++) data.push([xs[k], ys[k]]);
  option.series.push({type:'line', xAxisIndex:gi, yAxisIndex:gi, data:data, showSymbol:false, symbol:'none',
    lineStyle:{color:color, width:width}, itemStyle:{color:color}, silent:true, z:z, animation:false});
}
function hLines(gi, levels, color, width) {
  levels.forEach(v => lineSeries(gi, [XMIN, XMAX], [v, v], color, width, 1));
}
const P = {};
Object.keys(L.panels).forEach(k => { const c = L.panels[k]; P[k] = addGrid(c.top, c.height, c.min, c.max); });

hLines(P.aTop, aTopLevels, '#000', 1);
hLines(P.aBot, aBotLevels, '#000', 1);
[aTop1,aTop2,aTop3,aTop4,aTop5,aTop6,aTop7,aTop8,aTop9,aTop10,aTop11,aTop12].forEach((s, j) => lineSeries(P.aTop, TXA, s, bundleColors[j], 1.1, 2));
lineSeries(P.aTop, TXA, aTopBlack, '#000', 1, 3);
[aBot1,aBot2,aBot3,aBot4,aBot5,aBot6,aBot7,aBot8,aBot9,aBot10,aBot11,aBot12].forEach((s, j) => lineSeries(P.aBot, BXA, s, bundleColors[j], 1.1, 2));
lineSeries(P.aBot, BXA, aBotBlack, '#000', 1, 3);

function condition(pTop, pBot, color, top1, top2, topR1, topR2, bot1, bot2, botR1, botR2) {
  hLines(pTop, thresholdLevels, COL.ref, 1);
  hLines(pBot, thresholdLevels, COL.ref, 1);
  lineSeries(pTop, TX, topR1, '#000', 1.6, 2);
  lineSeries(pTop, TX, topR2, '#000', 1, 2);
  lineSeries(pTop, TX, top1, color, 1.6, 3);
  lineSeries(pTop, TX, top2, color, 1, 3);
  lineSeries(pBot, BX, botR1, '#000', 1.6, 2);
  lineSeries(pBot, BX, botR2, '#000', 1, 2);
  lineSeries(pBot, BX, bot1, color, 1.6, 3);
  lineSeries(pBot, BX, bot2, color, 1, 3);
}
condition(P.gTop, P.gBot, COL.green, greenTop1, greenTop2, greenTopRef1, greenTopRef2, greenBot1, greenBot2, greenBotRef1, greenBotRef2);
condition(P.bTop, P.bBot, COL.blue, blueTop1, blueTop2, blueTopRef1, blueTopRef2, blueBot1, blueBot2, blueBotRef1, blueBotRef2);
condition(P.rTop, P.rBot, COL.red, redTop1, redTop2, redTopRef1, redTopRef2, redBot1, redBot2, redBotRef1, redBotRef2);
condition(P.yTop, P.yBot, COL.yellow, yellowTop1, yellowTop2, yellowTopRef1, yellowTopRef2, yellowBot1, yellowBot2, yellowBotRef1, yellowBotRef2);

const chart = echarts.init(document.getElementById('c'), null, {renderer:'canvas', width:1024, height:1640});
chart.setOption(option);
</script>
</body></html>
